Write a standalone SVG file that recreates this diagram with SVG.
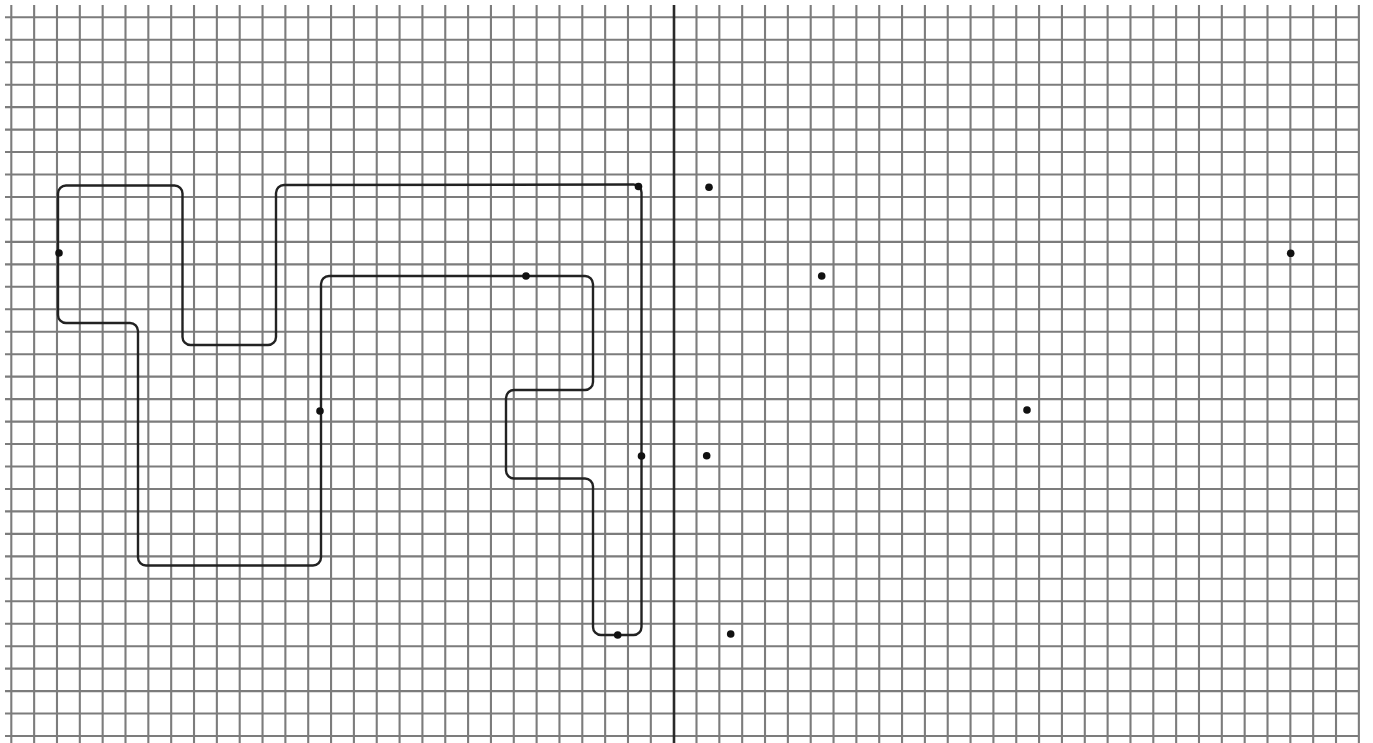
<svg xmlns="http://www.w3.org/2000/svg" width="1373" height="743" viewBox="0 0 1373 743">
<style>
.grid{fill:none;stroke:#7c7c7c;stroke-width:2.1}
.divider{fill:none;stroke:#2a2a2a;stroke-width:2.6}
.shape{fill:none;stroke:#222;stroke-width:2.4;stroke-linejoin:round}
.dot{fill:#111}
</style>
<rect width="1373" height="743" fill="#fff"/>
<g id="grid-vertical">
<path class="grid" d="M11.3 5V743M34.14 5V743M56.98 5V743M79.82 5V743M102.66 5V743M125.5 5V743M148.34 5V743M171.18 5V743M194.02 5V743M216.86 5V743M239.7 5V743M262.54 5V743M285.38 5V743M308.22 5V743M331.06 5V743M353.9 5V743M376.74 5V743M399.58 5V743M422.42 5V743M445.26 5V743M468.1 5V743M490.94 5V743M513.78 5V743M536.62 5V743M559.46 5V743M582.3 5V743M605.14 5V743M627.98 5V743M650.82 5V743M696.5 5V743M719.34 5V743M742.18 5V743M765.02 5V743M787.86 5V743M810.7 5V743M833.54 5V743M856.38 5V743M879.22 5V743M902.06 5V743M924.9 5V743M947.74 5V743M970.58 5V743M993.42 5V743M1016.26 5V743M1039.1 5V743M1061.94 5V743M1084.78 5V743M1107.62 5V743M1130.46 5V743M1153.3 5V743M1176.14 5V743M1198.98 5V743M1221.82 5V743M1244.66 5V743M1267.5 5V743M1290.34 5V743M1313.18 5V743M1336.02 5V743M1358.86 5V743"/>
</g>
<g id="grid-horizontal">
<path class="grid" d="M5 17.3H1359M5 39.76H1359M5 62.22H1359M5 84.68H1359M5 107.14H1359M5 129.6H1359M5 152.06H1359M5 174.52H1359M5 196.98H1359M5 219.44H1359M5 241.9H1359M5 264.36H1359M5 286.82H1359M5 309.28H1359M5 331.74H1359M5 354.2H1359M5 376.66H1359M5 399.12H1359M5 421.58H1359M5 444.04H1359M5 466.5H1359M5 488.96H1359M5 511.42H1359M5 533.88H1359M5 556.34H1359M5 578.8H1359M5 601.26H1359M5 623.72H1359M5 646.18H1359M5 668.64H1359M5 691.1H1359M5 713.56H1359M5 736.02H1359"/>
</g>
<g id="mirror-line">
<path class="divider" d="M674 5V743"/>
</g>
<g id="shape">
<path class="shape" d="M66 185.5H174.5a8 8 0 0 1 8 8V337a8 8 0 0 0 8 8H268a8 8 0 0 0 8 -8V193a8 8 0 0 1 8 -8L633.5 184.5a8 8 0 0 1 8 8V627a8 8 0 0 1 -8 8H601a8 8 0 0 1 -8 -8V486.5a8 8 0 0 0 -8 -8H514a8 8 0 0 1 -8 -8V398a8 8 0 0 1 8 -8H585a8 8 0 0 0 8 -8V284a8 8 0 0 0 -8 -8H329a8 8 0 0 0 -8 8V557.5a8 8 0 0 1 -8 8H146a8 8 0 0 1 -8 -8V331a8 8 0 0 0 -8 -8H66a8 8 0 0 1 -8 -8V193.5a8 8 0 0 1 8 -8Z"/>
</g>
<g id="shape-points">
<circle class="dot" cx="59" cy="253" r="3.8"/>
<circle class="dot" cx="526" cy="276" r="3.8"/>
<circle class="dot" cx="320" cy="411" r="3.8"/>
<circle class="dot" cx="641.5" cy="456" r="3.8"/>
<circle class="dot" cx="617.7" cy="635" r="3.8"/>
<circle class="dot" cx="638.5" cy="186.5" r="3.8"/>
</g>
<g id="image-points">
<circle class="dot" cx="709" cy="187.3" r="3.8"/>
<circle class="dot" cx="821.7" cy="276" r="3.8"/>
<circle class="dot" cx="1290.7" cy="253.3" r="3.8"/>
<circle class="dot" cx="1027" cy="410" r="3.8"/>
<circle class="dot" cx="706.7" cy="455.7" r="3.8"/>
<circle class="dot" cx="730.7" cy="634" r="3.8"/>
</g>
</svg>
